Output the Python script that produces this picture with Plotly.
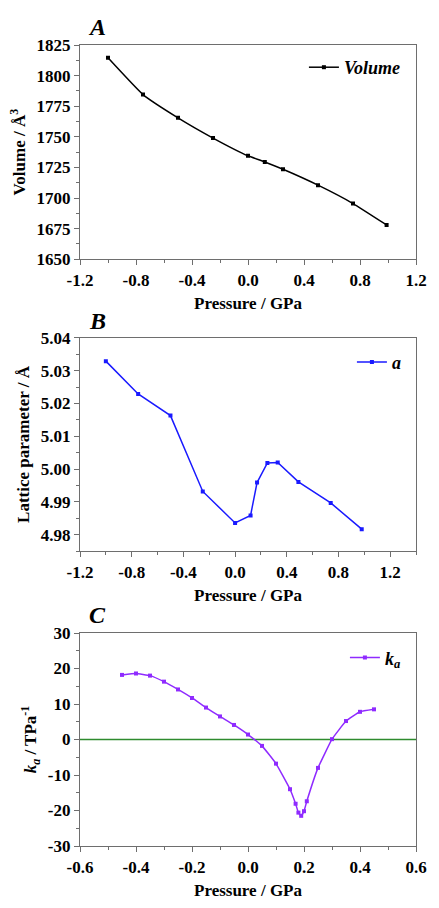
import plotly.graph_objects as go

# Panel A: volume vs pressure
pA = [-1.0, -0.75, -0.5, -0.25, 0.0, 0.12, 0.25, 0.5, 0.75, 0.99]
vol = [1814.5, 1784.5, 1765.5, 1749.0, 1734.5, 1729.5, 1723.5, 1710.5, 1695.5, 1678.0]

# Panel B: lattice parameter a
pB = [-1.0, -0.75, -0.5, -0.25, 0.0, 0.12, 0.17, 0.25, 0.33, 0.49, 0.74, 0.98]
lat_a = [5.0329, 5.0229, 5.0163, 4.9932, 4.9836, 4.9859, 4.9959, 5.0019, 5.0020, 4.9961, 4.9897, 4.9817]

# Panel C: compressibility k_a
pC = [-0.45, -0.4, -0.35, -0.3, -0.25, -0.2, -0.15, -0.1, -0.05, 0.0, 0.05, 0.1,
      0.15, 0.17, 0.18, 0.19, 0.2, 0.21, 0.25, 0.3, 0.35, 0.4, 0.45]
ka = [18.2, 18.6, 18.0, 16.3, 14.1, 11.7, 9.0, 6.5, 4.1, 1.4, -1.8, -6.8,
      -14.0, -18.1, -20.6, -21.5, -20.2, -17.4, -8.0, 0.1, 5.2, 7.8, 8.5]
zero_line = [0, 0]
zero_x = [-0.6, 0.6]

# Tick labels
xtA = [-1.2, -0.8, -0.4, 0.0, 0.4, 0.8, 1.2]
xtA_text = ["-1.2", "-0.8", "-0.4", "0.0", "0.4", "0.8", "1.2"]
ytA = [1650, 1675, 1700, 1725, 1750, 1775, 1800, 1825]
ytA_text = ["1650", "1675", "1700", "1725", "1750", "1775", "1800", "1825"]
ytB = [4.98, 4.99, 5.00, 5.01, 5.02, 5.03, 5.04]
ytB_text = ["4.98", "4.99", "5.00", "5.01", "5.02", "5.03", "5.04"]
xtC = [-0.6, -0.4, -0.2, 0.0, 0.2, 0.4, 0.6]
xtC_text = ["-0.6", "-0.4", "-0.2", "0.0", "0.2", "0.4", "0.6"]
ytC = [-30, -20, -10, 0, 10, 20, 30]
ytC_text = ["-30", "-20", "-10", "0", "10", "20", "30"]

SERIF = "Liberation Serif, Times New Roman, serif"
TICKF = dict(family=SERIF, size=17, color="black")
TITLEF = dict(family=SERIF, size=17, color="black")
FRAME = "#6e6e6e"

def b(t):
    return "<b>" + t + "</b>"

fig = go.Figure()
fig.add_trace(go.Scatter(x=pA, y=vol, mode="lines+markers", name="<b><i>Volume</i></b>",
                         line=dict(color="black", width=1.5, shape="spline", smoothing=0.4),
                         marker=dict(symbol="square", size=4, color="black"),
                         xaxis="x", yaxis="y", legend="legend"))
fig.add_trace(go.Scatter(x=pB, y=lat_a, mode="lines+markers", name="<b><i>a</i></b>",
                         line=dict(color="#1a1aff", width=1.5),
                         marker=dict(symbol="square", size=4, color="#1a1aff"),
                         xaxis="x2", yaxis="y2", legend="legend2"))
fig.add_trace(go.Scatter(x=zero_x, y=zero_line, mode="lines", showlegend=False,
                         line=dict(color="#2e8b2e", width=1.5),
                         xaxis="x3", yaxis="y3", hoverinfo="skip"))
fig.add_trace(go.Scatter(x=pC, y=ka, mode="lines+markers", name="<b><i>k<sub>a</sub></i></b>",
                         line=dict(color="#8f2bff", width=1.5, shape="spline", smoothing=0.3),
                         marker=dict(symbol="square", size=4, color="#8f2bff"),
                         xaxis="x3", yaxis="y3", legend="legend3"))

def common(dtick):
    return dict(showgrid=False, zeroline=False, showline=True, linecolor=FRAME, linewidth=1.2,
                mirror=True, ticks="outside", ticklen=5, tickcolor=FRAME, tickwidth=1,
                minor=dict(ticks="outside", ticklen=3, dtick=dtick / 2, tickcolor=FRAME),
                tickfont=TICKF)

def xax(rng, dtick, anchor, title, tv, tt):
    d = common(dtick)
    d.update(range=rng, anchor=anchor, tickmode="array", tickvals=tv, ticktext=[b(t) for t in tt],
             title=dict(text=title, font=TITLEF, standoff=8))
    d["minor"]["tick0"] = 0
    return d

def yax(rng, dtick, anchor, domain, title, tv, tt):
    d = common(dtick)
    d.update(range=rng, anchor=anchor, domain=domain, tickmode="array", tickvals=tv,
             ticktext=[b(t) for t in tt], title=dict(text=title, font=TITLEF, standoff=6))
    d["minor"]["tick0"] = 0
    return d

fig.update_layout(
    width=439, height=908,
    margin=dict(l=80, r=13, t=45, b=48),
    plot_bgcolor="white", paper_bgcolor="white",
    xaxis=xax([-1.2, 1.2], 0.4, "y", b("Pressure / GPa"), xtA, xtA_text),
    yaxis=yax([1650, 1825], 25, "x", [0.7325, 1.0], b("Volume / Å<sup>3</sup>"), ytA, ytA_text),
    xaxis2=xax([-1.2, 1.4], 0.4, "y2", b("Pressure / GPa"), xtA, xtA_text),
    yaxis2=yax([4.975, 5.04], 0.01, "x2", [0.3681, 0.6344], b("Lattice parameter / Å"), ytB, ytB_text),
    xaxis3=xax([-0.6, 0.6], 0.2, "y3", b("Pressure / GPa"), xtC, xtC_text),
    yaxis3=yax([-30, 30], 10, "x3", [0.0, 0.2659], b("<i>k<sub>a</sub></i> / TPa<sup>-1</sup>"), ytC, ytC_text),
    legend=dict(x=0.97, y=0.995, xanchor="right", yanchor="top", bgcolor="rgba(0,0,0,0)",
                font=dict(family=SERIF, size=18, color="black")),
    legend2=dict(x=0.97, y=0.627, xanchor="right", yanchor="top", bgcolor="rgba(0,0,0,0)",
                 font=dict(family=SERIF, size=18, color="black")),
    legend3=dict(x=0.97, y=0.258, xanchor="right", yanchor="top", bgcolor="rgba(0,0,0,0)",
                 font=dict(family=SERIF, size=18, color="black")),
    showlegend=True,
)

for letter, yp in [("A", 1.022), ("B", 0.656), ("C", 0.288)]:
    fig.add_annotation(text="<b><i>" + letter + "</i></b>", x=0.052, y=yp, xref="paper", yref="paper",
                       showarrow=False, font=dict(family=SERIF, size=24, color="black"),
                       xanchor="center", yanchor="middle")

fig.write_html("out.html")
